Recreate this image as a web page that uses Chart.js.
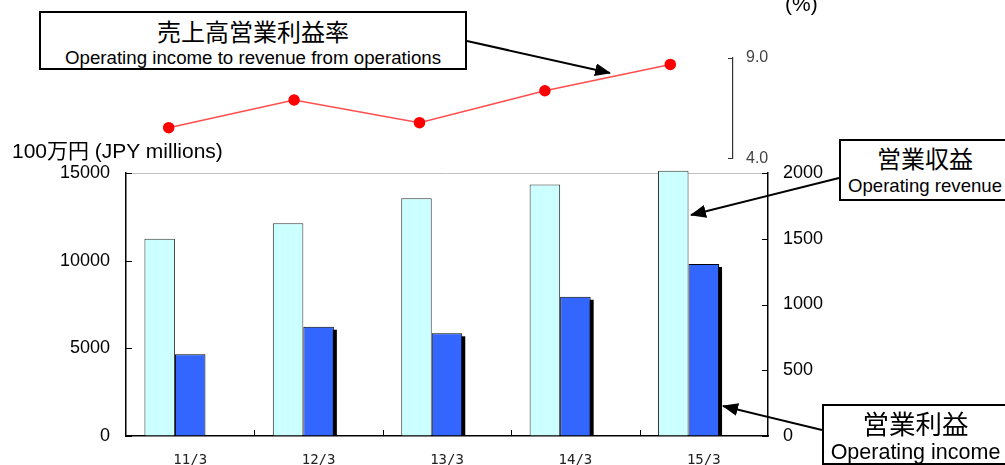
<!DOCTYPE html>
<html>
<head>
<meta charset="utf-8">
<script src="https://cdn.jsdelivr.net/npm/chart.js@4.4.1/dist/chart.umd.min.js"></script>
<style>
html, body { margin: 0; padding: 0; background: #fff; overflow: hidden; }
#wrap { position: relative; width: 1005px; height: 465px; font-family: "Liberation Sans", Arial, "Noto Sans CJK JP", sans-serif; color: #000; }
canvas, svg { position: absolute; left: 0; top: 0; }
.lbl { position: absolute; white-space: nowrap; line-height: 1; }
.box { position: absolute; border: 2px solid #000; background: #fff; box-sizing: border-box; text-align: center; white-space: nowrap; }
.box .jp { font-family: "Noto Sans CJK JP", sans-serif; display: block; line-height: 1; }
.box .en { display: block; line-height: 1; }
</style>
</head>
<body>
<div id="wrap">
  <canvas id="salesChart" width="1005" height="465"></canvas>
  <canvas id="rateChart" width="1005" height="181"></canvas>
  <svg width="1005" height="465">
    <defs>
      <marker id="head" markerWidth="16" markerHeight="13" refX="15" refY="6.5" orient="auto" markerUnits="userSpaceOnUse">
        <path d="M0,0 L16,6.5 L0,13 z" fill="#000"/>
      </marker>
    </defs>
    <line x1="467" y1="41" x2="610" y2="73" stroke="#000" stroke-width="2" marker-end="url(#head)"/>
    <line x1="839" y1="178" x2="691" y2="215" stroke="#000" stroke-width="2" marker-end="url(#head)"/>
    <line x1="822" y1="430" x2="723" y2="406" stroke="#000" stroke-width="2" marker-end="url(#head)"/>
  </svg>
  <div class="lbl" style="left:12px; top:140px; font-size:21px;">100万円 (JPY millions)</div>
  <div class="lbl" style="left:785px; top:-7px; font-size:21px;">(%)</div>
  <div class="box" style="left:39px; top:11px; width:428px; height:59px;">
    <span class="jp" style="font-size:24px; margin-top:6px;">売上高営業利益率</span>
    <span class="en" style="font-size:18.7px; margin-top:6px;">Operating income to revenue from operations</span>
  </div>
  <div class="box" style="left:839px; top:139px; width:172px; height:62px;">
    <span class="jp" style="font-size:24px; margin-top:5px;">営業収益</span>
    <span class="en" style="font-size:18.6px; margin-top:7px;">Operating revenue</span>
  </div>
  <div class="box" style="left:822px; top:404px; width:187px; height:61px;">
    <span class="jp" style="font-size:26.5px; margin-top:4px;">営業利益</span>
    <span class="en" style="font-size:21.5px; margin-top:5px;">Operating income</span>
  </div>
</div>
<script>
// 決算期
const periods = ['11/3', '12/3', '13/3', '14/3', '15/3'];
// 営業収益 (100万円)
const operatingRevenue = [11250, 12130, 13560, 14350, 15130];
// 営業利益 (100万円)
const operatingIncome = [621, 831, 781, 1059, 1308];
// 売上高営業利益率 (%)
const incomeRatio = [5.53, 6.91, 5.78, 7.37, 8.68];

// 目盛り
const revenueTicks = [0, 5000, 10000, 15000];
const incomeTicks = [0, 500, 1000, 1500, 2000];
const ratioTicks = [4.0, 9.0];

// 内向きの目盛り線を描く
const inwardTicks = {
    id: 'inwardTicks',
    afterDraw(chart) {
        const { ctx, chartArea, scales } = chart;
        ctx.save();
        ctx.strokeStyle = '#000';
        ctx.lineWidth = 1;
        ctx.beginPath();
        scales.y.ticks.forEach(t => {
            const py = Math.round(scales.y.getPixelForValue(t.value)) + 0.5;
            ctx.moveTo(chartArea.left, py);
            ctx.lineTo(chartArea.left + 6, py);
        });
        scales.y1.ticks.forEach(t => {
            const py = Math.round(scales.y1.getPixelForValue(t.value)) + 0.5;
            ctx.moveTo(chartArea.right - 6, py);
            ctx.lineTo(chartArea.right, py);
        });
        for (let i = 0; i < periods.length - 1; i++) {
            const px = Math.round((scales.x.getPixelForValue(i) + scales.x.getPixelForValue(i + 1)) / 2) + 0.5;
            ctx.moveTo(px, chartArea.bottom);
            ctx.lineTo(px, chartArea.bottom - 6);
        }
        ctx.stroke();
        ctx.restore();
    }
};

// 営業利益の棒に影をつける (最初の期は影なし)
const barShadow = {
    id: 'barShadow',
    beforeDatasetDraw(chart, args) {
        if (args.index !== 1) return;
        const ctx = chart.ctx;
        ctx.save();
        ctx.fillStyle = '#000';
        args.meta.data.forEach((bar, i) => {
            if (i === 0) return;
            const { x, y, base, width } = bar.getProps(['x', 'y', 'base', 'width']);
            ctx.fillRect(x - width / 2 + 3, y + 3, width, base - y - 3);
        });
        ctx.restore();
    }
};

new Chart(document.getElementById('salesChart'), {
    type: 'bar',
    data: {
        labels: periods,
        datasets: [
            {
                label: '営業収益',
                data: operatingRevenue,
                yAxisID: 'y',
                backgroundColor: '#ccffff',
                borderColor: '#333',
                borderWidth: 1,
                clip: false
            },
            {
                label: '営業利益',
                data: operatingIncome,
                yAxisID: 'y1',
                backgroundColor: '#3366ff',
                borderColor: '#000',
                borderWidth: 1
            },
            {
                // 空の系列 (Excel の3本目の枠)
                label: '',
                data: [],
                yAxisID: 'y1'
            }
        ]
    },
    options: {
        responsive: false,
        animation: false,
        categoryPercentage: 0.713,
        barPercentage: 1,
        layout: { padding: { top: 173, left: 0, right: 0, bottom: 0 } },
        plugins: { legend: { display: false }, tooltip: { enabled: false } },
        scales: {
            x: {
                offset: true,
                grid: { drawOnChartArea: false, drawTicks: false },
                border: { display: true, color: '#000', width: 1.5 },
                ticks: { font: { family: 'DejaVu Sans Mono', size: 14 }, color: '#222', padding: 16, maxRotation: 0 },
                afterFit: s => { s.height = 29; }
            },
            y: {
                position: 'left',
                min: 0,
                max: 15000,
                afterBuildTicks: s => { s.ticks = revenueTicks.map(v => ({ value: v })); },
                grid: {
                    drawTicks: false,
                    color: c => (c.tick && c.tick.value === 15000) ? '#c0c0c0' : 'rgba(0,0,0,0)'
                },
                border: { display: true, color: '#000', width: 1.5 },
                ticks: { callback: v => String(v), font: { family: 'Liberation Sans', size: 18 }, color: '#000', padding: 16 },
                afterFit: s => { s.width = 126; }
            },
            y1: {
                position: 'right',
                min: 0,
                max: 2000,
                afterBuildTicks: s => { s.ticks = incomeTicks.map(v => ({ value: v })); },
                grid: { drawOnChartArea: false, drawTicks: false },
                border: { display: true, color: '#000', width: 1.5 },
                ticks: { callback: v => String(v), font: { family: 'Liberation Sans', size: 18 }, color: '#000', padding: 15 },
                afterFit: s => { s.width = 237; }
            }
        }
    },
    plugins: [inwardTicks, barShadow]
});

// 利益率軸の括弧型の目盛り
const bracketTicks = {
    id: 'bracketTicks',
    afterDraw(chart) {
        const { ctx, chartArea, scales } = chart;
        ctx.save();
        ctx.strokeStyle = '#333';
        ctx.lineWidth = 1.2;
        ctx.beginPath();
        scales.y.ticks.forEach(t => {
            const py = Math.round(scales.y.getPixelForValue(t.value)) + 0.5;
            ctx.moveTo(chartArea.right - 5, py);
            ctx.lineTo(chartArea.right, py);
        });
        ctx.stroke();
        ctx.restore();
    }
};

new Chart(document.getElementById('rateChart'), {
    type: 'line',
    data: {
        labels: periods,
        datasets: [{
            label: '売上高営業利益率',
            data: incomeRatio,
            borderColor: '#ff4d4d',
            borderWidth: 1.5,
            pointBackgroundColor: '#ff0000',
            pointBorderColor: '#ff0000',
            pointRadius: 5,
            tension: 0,
            clip: false
        }]
    },
    options: {
        responsive: false,
        animation: false,
        layout: { padding: { top: 58, bottom: 8, left: 106, right: 0 } },
        plugins: { legend: { display: false }, tooltip: { enabled: false } },
        scales: {
            x: { display: false, offset: true },
            y: {
                position: 'right',
                min: 4,
                max: 9,
                afterBuildTicks: s => { s.ticks = ratioTicks.map(v => ({ value: v })); },
                grid: { drawOnChartArea: false, drawTicks: false },
                border: { display: true, color: '#333', width: 1.2 },
                ticks: {
                    callback: v => Number(v).toFixed(1),
                    font: { family: 'Liberation Sans', size: 16 },
                    color: '#444',
                    padding: 13
                },
                afterFit: s => { s.width = 272; }
            }
        }
    },
    plugins: [bracketTicks]
});
</script>
</body>
</html>
